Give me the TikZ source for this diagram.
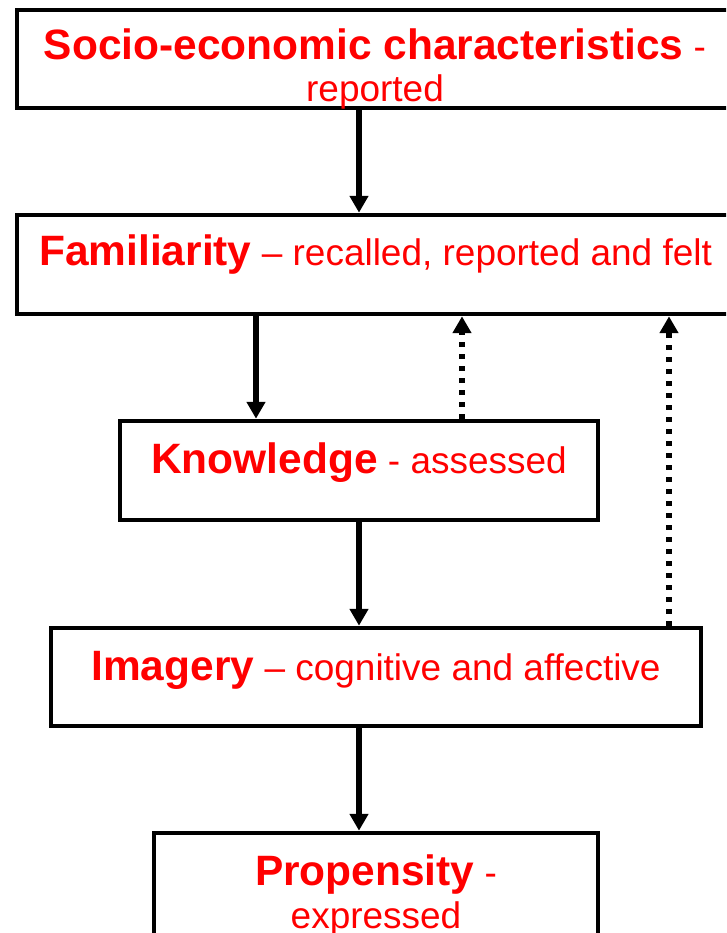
\documentclass[tikz,border=0pt]{standalone}
\usepackage{fontspec}
\setmainfont{Liberation Sans}
\usetikzlibrary{arrows.meta}
\newcommand{\hd}[1]{{\fontsize{30.2pt}{30pt}\selectfont\bfseries #1}}
\begin{document}
\begin{tikzpicture}[
    box/.style={draw,line width=3.3pt,inner sep=0pt},
    lbl/.style={anchor=base,align=center,text=red,inner sep=0pt,
      font=\fontsize{26.3pt}{29.9pt}\selectfont},
    flow/.style={line width=4pt,-{Triangle[length=0.42cm,width=0.45cm]}},
    feedback/.style={line width=4.3pt,dash pattern=on 0.125cm off 0.175cm,
      -{Triangle[length=0.42cm,width=0.45cm]}}
  ]
  \useasboundingbox (0,0) rectangle (18.15,-23.325);
  \clip (0,0) rectangle (18.15,-23.325);

  % boxes
  \node[box,minimum width=17.9cm,minimum height=2.45cm] (soc) at (9.375,-1.475) {};
  \node[box,minimum width=17.93cm,minimum height=2.475cm] (fam) at (9.39,-6.6125) {};
  \node[box,minimum width=11.95cm,minimum height=2.475cm] (know) at (8.975,-11.7625) {};
  \node[box,minimum width=16.25cm,minimum height=2.45cm] (img) at (9.4,-16.925) {};
  \node[box,minimum width=11.1cm,minimum height=3cm] (prop) at (9.4,-22.325) {};

  % texts (base = last line)
  \node[lbl] (soct) at (9.375,-2.55) {\hd{Socio-economic characteristics} -\\reported};
  \node[lbl] (famt) at (9.39,-6.625) {\hd{Familiarity} – recalled, reported and felt};
  \node[lbl] (knowt) at (8.975,-11.825) {\hd{Knowledge} - assessed};
  \node[lbl] (imgt) at (9.4,-17.0) {\hd{Imagery} – cognitive and affective};
  \node[lbl] (propt) at (9.4,-23.2) {\hd{Propensity} -\\expressed};

  % columns of the connectors
  \coordinate (mid) at (8.975,0);
  \coordinate (left) at (6.4,0);
  \coordinate (back1) at (11.55,0);
  \coordinate (back2) at (16.725,0);

  \draw[flow] (soc.south -| mid) -- (fam.north -| mid);
  \draw[flow] (fam.south -| left) -- (know.north -| left);
  \draw[flow] (know.south -| mid) -- (img.north -| mid);
  \draw[flow] (img.south -| mid) -- (prop.north -| mid);
  \draw[feedback] (know.north -| back1) -- (fam.south -| back1);
  \draw[feedback] (img.north -| back2) -- (fam.south -| back2);
\end{tikzpicture}
\end{document}
